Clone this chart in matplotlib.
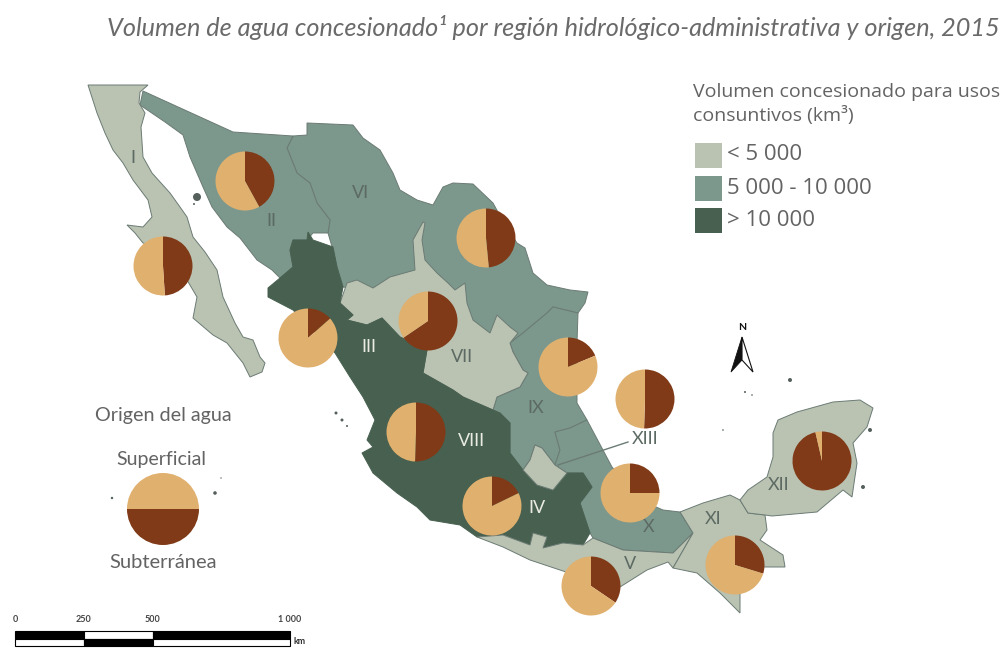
import matplotlib
matplotlib.use('Agg')
import matplotlib.pyplot as plt
from matplotlib.patches import Polygon, Rectangle, Circle

W, H = 1005, 648

LIGHT = '#bac2b2'
MEDIUM = '#7c988d'
DARK = '#47604f'
EDGE = '#6b7b74'
SURFACE = '#e0b06e'
GROUND = '#803a17'
TEXT = '#636363'

region_i = [(88, 85), (148, 85), (140, 92), (139, 103), (145, 113), (141, 127), (143, 157), (152, 173),
            (170, 193), (180, 207), (187, 217), (193, 237), (205, 252), (217, 270), (223, 297), (235, 323),
            (243, 337), (253, 340), (260, 357), (265, 363), (262, 372), (250, 377), (243, 363), (227, 343),
            (213, 335), (193, 318), (197, 297), (187, 280), (180, 267), (167, 250), (143, 243), (135, 233),
            (127, 225), (143, 227), (152, 217), (148, 200), (133, 180), (123, 163), (113, 150), (105, 133),
            (97, 113)]
region_ii = [(143, 91), (233, 132), (293, 136), (287, 148), (297, 173), (310, 183), (317, 203), (330, 220),
             (328, 233), (313, 233), (307, 240), (293, 240), (290, 250), (293, 267), (280, 278), (272, 270),
             (257, 260), (240, 238), (227, 227), (212, 207), (203, 187), (190, 157), (183, 135), (165, 122),
             (140, 105)]
region_vi = [(293, 136), (307, 135), (307, 123), (353, 125), (363, 138), (380, 150), (393, 173), (400, 190),
             (417, 200), (433, 205), (443, 187), (453, 183), (473, 184), (493, 203), (505, 225), (517, 243),
             (525, 248), (533, 273), (547, 285), (570, 290), (588, 292), (585, 303), (578, 313), (553, 307),
             (547, 313), (523, 333), (510, 343), (513, 352), (500, 350), (480, 340), (440, 300), (343, 287),
             (337, 267), (333, 250), (328, 233), (330, 220), (317, 203), (310, 183), (297, 173), (287, 148)]
region_vii = [(415, 270), (413, 240), (423, 222), (425, 223), (422, 240), (425, 260), (437, 273), (448, 283),
              (455, 290), (465, 283), (467, 303), (473, 320), (490, 333), (497, 315), (510, 327), (518, 333),
              (510, 343), (513, 352), (523, 370), (528, 373), (520, 387), (497, 397), (493, 410), (463, 397),
              (453, 390), (423, 373), (427, 350), (400, 337), (382, 318), (367, 325), (347, 320), (353, 315),
              (340, 303), (347, 283), (357, 280), (373, 288), (390, 277)]
region_dark = [(293, 240), (307, 240), (308, 232), (313, 240), (333, 247), (337, 267), (343, 287), (340, 303),
               (353, 315), (347, 320), (367, 325), (382, 318), (400, 337), (427, 350), (423, 373), (453, 390),
               (463, 397), (493, 410), (500, 413), (510, 423), (510, 453), (523, 470), (537, 485), (553, 490),
               (567, 473), (583, 473), (592, 487), (580, 503), (590, 533), (583, 545), (563, 543), (543, 548),
               (547, 537), (533, 533), (530, 545), (503, 535), (477, 537), (460, 525), (430, 520), (417, 507),
               (397, 493), (373, 473), (362, 453), (373, 447), (367, 440), (375, 420), (363, 397), (350, 377),
               (335, 353), (293, 310), (268, 297), (268, 288), (280, 278), (293, 267), (290, 250)]
region_ix = [(578, 313), (553, 307), (547, 313), (523, 333), (510, 343), (513, 352), (523, 370), (528, 373),
             (520, 387), (497, 397), (493, 410), (500, 413), (510, 423), (510, 453), (523, 470), (530, 460),
             (535, 445), (542, 448), (555, 465), (560, 450), (555, 432), (570, 428), (587, 420), (577, 403),
             (577, 343)]
region_x = [(555, 465), (560, 450), (555, 432), (570, 428), (587, 420), (612, 467), (640, 500), (663, 510),
            (680, 512), (693, 533), (673, 553), (623, 550), (593, 538), (590, 533), (580, 503), (592, 487),
            (583, 473), (567, 473)]
region_xiii = [(535, 445), (542, 448), (555, 465), (567, 473), (553, 490), (537, 485), (523, 470), (530, 460)]
region_v = [(477, 537), (503, 547), (530, 560), (560, 570), (590, 580), (620, 587), (647, 570), (668, 562),
            (673, 568), (693, 533), (673, 553), (623, 550), (593, 538), (583, 545), (563, 543), (543, 548),
            (547, 537), (533, 533), (530, 545), (503, 535)]
region_xi = [(673, 568), (693, 533), (680, 512), (703, 503), (730, 495), (740, 500), (748, 513), (765, 515),
             (767, 530), (760, 540), (783, 555), (785, 567), (763, 567), (753, 587), (740, 593), (740, 613),
             (720, 593), (697, 573)]
region_xii = [(740, 500), (748, 490), (767, 477), (773, 457), (773, 433), (778, 420), (797, 412), (833, 402),
              (860, 400), (873, 408), (867, 427), (853, 443), (857, 463), (852, 497), (843, 490), (817, 512),
              (772, 516), (765, 515), (748, 513)]

# drawing order matters, later shapes sit on the shared borders
regions = [region_vi, region_ii, region_ix, region_x, region_i, region_vii, region_dark,
           region_v, region_xi, region_xii, region_xiii]
region_colors = [MEDIUM, MEDIUM, MEDIUM, MEDIUM, LIGHT, LIGHT, DARK, LIGHT, LIGHT, LIGHT, LIGHT]

# share of groundwater per region
pie_names = ['I', 'II', 'VI', 'III', 'VII', 'VIII', 'IV', 'IX', 'XIII', 'X', 'V', 'XI', 'XII']
pie_ground = [0.49, 0.42, 0.485, 0.135, 0.655, 0.505, 0.178, 0.187, 0.505, 0.25, 0.345, 0.297, 0.964]
pie_x = [163, 245, 486, 308, 428, 416, 492, 568, 645, 630, 591, 735, 822]
pie_y = [266, 181, 238, 338, 321, 432, 506, 367, 399, 493, 586, 565, 461]
PIE_R = 29.5

label_names = ['I', 'II', 'III', 'IV', 'V', 'VI', 'VII', 'VIII', 'IX', 'X', 'XI', 'XII', 'XIII']
label_x = [133, 271, 369, 537, 630, 361, 462, 471, 536, 649, 713, 779, 645]
label_y = [158, 221, 347, 508, 564, 193, 357, 441, 408, 527, 519, 485, 439]
label_on_dark = ['III', 'IV', 'VIII']

island_x = [197, 194, 112, 215, 221, 790, 745, 863, 870, 336, 342, 347, 752, 723]
island_y = [197, 204, 498, 493, 478, 380, 392, 487, 430, 413, 420, 426, 395, 430]
island_r = [4, 1, 1.2, 1.8, 0.7, 2, 1, 2, 2, 1.5, 1.5, 1, 0.8, 0.8]

legend_labels = ['< 5 000', '5 000 - 10 000', '> 10 000']
legend_colors = [LIGHT, MEDIUM, DARK]
legend_y = [143, 176, 208]

scale_km = [0, 250, 500, 1000]
SCALE_X0 = 15
PX_PER_KM = 0.275


def flip(pts):
    return [(x, H - y) for x, y in pts]


def draw_pie(values, colors, x, y, r, start=90, clockwise=True):
    wedges, _ = ax.pie(values, colors=colors, startangle=start, counterclock=not clockwise,
                       center=(x, H - y), radius=r, frame=True, wedgeprops={'linewidth': 0})
    for w in wedges:
        w.set_zorder(4)


fig = plt.figure(figsize=(W / 100, H / 100), dpi=100)
ax = fig.add_axes([0, 0, 1, 1])
plt.rcParams['font.family'] = ['Lato', 'DejaVu Sans']

for poly, col in zip(regions, region_colors):
    edge = DARK if col == DARK else EDGE
    ax.add_patch(Polygon(flip(poly), closed=True, facecolor=col, edgecolor=edge, linewidth=0.7, zorder=2))

for x, y, r in zip(island_x, island_y, island_r):
    ax.add_patch(Circle((x, H - y), r, facecolor='#55605c', edgecolor='none', zorder=2))

# XIII leader
ax.plot([558, 628], [H - 465, H - 442], color=EDGE, lw=1, zorder=3)

for name, x, y in zip(label_names, label_x, label_y):
    col = '#e9ebe4' if name in label_on_dark else '#5c6a63'
    ax.text(x, H - y, name, ha='center', va='center', fontsize=13, color=col, zorder=5)

for share, x, y in zip(pie_ground, pie_x, pie_y):
    draw_pie([share, 1 - share], [GROUND, SURFACE], x, y, PIE_R)

# legend pie
draw_pie([0.5, 0.5], [SURFACE, GROUND], 163, 509, 36, start=0, clockwise=False)
ax.text(163, H - 415, 'Origen del agua', ha='center', va='center', fontsize=14.2, color=TEXT)
ax.text(161, H - 459, 'Superficial', ha='center', va='center', fontsize=14, color=TEXT)
ax.text(163, H - 562, 'Subterránea', ha='center', va='center', fontsize=14.5, color=TEXT)

ax.text(1000, H - 28, 'Volumen de agua concesionado¹ por región hidrológico-administrativa y origen, 2015',
        ha='right', va='center', fontsize=18.2, style='italic', color='#6a6a6a')

ax.text(693, H - 92, 'Volumen concesionado para usos', ha='left', va='center', fontsize=14,
        color=TEXT, family=['Open Sans', 'DejaVu Sans'])
ax.text(693, H - 116, 'consuntivos (km³)', ha='left', va='center', fontsize=14,
        color=TEXT, family=['Open Sans', 'DejaVu Sans'])
for lab, col, y in zip(legend_labels, legend_colors, legend_y):
    ax.add_patch(Rectangle((695, H - y - 25), 27, 25, facecolor=col, edgecolor='none'))
    ax.text(727, H - y - 12, lab, ha='left', va='center', fontsize=16, color=TEXT,
            family=['Open Sans', 'DejaVu Sans'])

# north arrow
ax.text(742, H - 328, 'N', ha='center', va='center', fontsize=7.5, fontweight='bold', color='#111111')
ax.add_patch(Polygon(flip([(742, 337), (731, 372), (742, 360)]), closed=True, facecolor='#111111',
                     edgecolor='#111111', linewidth=0.6))
ax.add_patch(Polygon(flip([(742, 337), (753, 372), (742, 360)]), closed=True, facecolor='white',
                     edgecolor='#111111', linewidth=0.8))

# scale bar, two rows with swapped fills
for i in range(len(scale_km) - 1):
    x0 = SCALE_X0 + scale_km[i] * PX_PER_KM
    w = (scale_km[i + 1] - scale_km[i]) * PX_PER_KM
    top, bottom = ('black', 'white') if i % 2 == 0 else ('white', 'black')
    ax.add_patch(Rectangle((x0, H - 639), w, 8, facecolor=top, edgecolor='black', linewidth=0.8))
    ax.add_patch(Rectangle((x0, H - 646), w, 7, facecolor=bottom, edgecolor='black', linewidth=0.8))
for km in scale_km:
    ax.text(SCALE_X0 + km * PX_PER_KM, H - 620, f'{km:,}'.replace(',', ' '), ha='center', va='center',
            fontsize=6.5, fontweight='bold', color='#444444')
ax.text(293, H - 641, 'km', ha='left', va='center', fontsize=6.5, fontweight='bold', color='#333333')

ax.set_xlim(0, W)
ax.set_ylim(0, H)
ax.set_aspect('auto')
ax.axis('off')

fig.savefig('out.png', dpi=100, facecolor='white')
